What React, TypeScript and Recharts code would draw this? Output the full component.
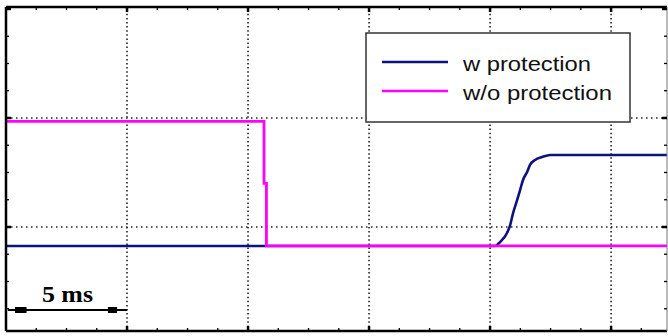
import React from 'react';
import {
  LineChart,
  Line,
  XAxis,
  YAxis,
  ReferenceLine,
  ReferenceArea,
  Legend,
} from 'recharts';

// ---- data (time in ms, amplitude in division units) ----
const wName = 'w protection';
const woName = 'w/o protection';

const wTime = [0, 20.21, 20.41, 20.7, 20.83, 20.95, 21.12, 21.24, 21.36, 21.53, 21.65, 21.86, 22.15, 22.48, 22.89, 27.31];
const wValue = [0.826, 0.826, 0.862, 0.945, 1.018, 1.128, 1.248, 1.339, 1.431, 1.505, 1.569, 1.615, 1.642, 1.661, 1.661, 1.661];

const woTime = [0, 10.66, 10.66, 10.76, 10.76, 27.31];
const woValue = [1.968, 1.968, 1.4, 1.4, 0.826, 0.826];

const xTicks = [1.25, 2.5, 3.75, 5, 6.25, 7.5, 8.75, 10, 11.25, 12.5, 13.75, 15, 16.25, 17.5, 18.75, 20, 21.25, 22.5, 23.75, 25, 26.25];
const yTicks = [0.25, 0.5, 0.75, 1, 1.25, 1.5, 1.75, 2, 2.25, 2.5, 2.75, 3];
const xGrid = [5, 10, 15, 20, 25];
const yGrid = [1, 2];

const scaleLabel = '5 ms';
const scaleStart = 0.08;
const scaleEnd = 5;
const scaleLevel = 0.2385;
const capLeft = [0.37, 0.85];
const capRight = [4.21, 4.59];
const capY = [0.211, 0.266];

const wData = wTime.map((t, i) => ({ t, v: wValue[i] }));
const woData = woTime.map((t, i) => ({ t, v: woValue[i] }));

const isMajorX = (v: number) => Math.abs(v % 5) < 1e-6;
const isMajorY = (v: number) => Math.abs(v % 1) < 1e-6;

const makeXTick = (dir: number) => (props: any) => {
  const { x, y, payload } = props;
  const major = isMajorX(payload.value);
  const len = major ? 5 : 3;
  return (
    <line x1={x} x2={x} y1={y} y2={y + dir * len} stroke="#000" strokeWidth={major ? 2.5 : 1.3} />
  );
};

const makeYTick = (dir: number) => (props: any) => {
  const { x, y, payload } = props;
  const major = isMajorY(payload.value);
  const len = major ? 5 : 3;
  return (
    <line x1={x} x2={x + dir * len} y1={y} y2={y} stroke="#000" strokeWidth={major ? 2.5 : 1.3} />
  );
};

const legendTextLen: Record<string, number> = { [wName]: 128, [woName]: 149 };

const renderLegend = (props: any) => {
  const payload = props.payload || [];
  return (
    <svg width={267} height={92} style={{ display: 'block' }}>
      <rect x={1} y={1} width={264} height={89} fill="#fff" stroke="#333" strokeWidth={1.5} />
      {payload.map((p: any, i: number) => (
        <g key={p.value}>
          <line x1={17} x2={83} y1={30 + i * 29} y2={30 + i * 29} stroke={p.color} strokeWidth={2.5} />
          <text
            x={98}
            y={39 + i * 29}
            fontFamily="'Liberation Sans', Arial, sans-serif"
            fontSize={21}
            fill="#111"
            textLength={legendTextLen[p.value]}
            lengthAdjust="spacingAndGlyphs"
          >
            {p.value}
          </text>
        </g>
      ))}
    </svg>
  );
};

const renderScaleLabel = (props: any) => {
  const vb = props.viewBox || {};
  const cx = (vb.x || 0) + (vb.width || 0) / 2;
  const cy = vb.y || 0;
  return (
    <text
      x={cx}
      y={cy - 8}
      textAnchor="middle"
      fontFamily="'Liberation Serif', 'Times New Roman', serif"
      fontWeight="bold"
      fontSize={24}
      fill="#000"
      textLength={51}
      lengthAdjust="spacingAndGlyphs"
    >
      {scaleLabel}
    </text>
  );
};

export default function App() {
  const axisCommonX = {
    type: 'number' as const,
    domain: [0, 27.31],
    ticks: xTicks,
    interval: 0 as const,
    mirror: true,
    height: 1,
    tickSize: 0,
    tickMargin: 0,
    tickLine: false,
    allowDataOverflow: true,
  };
  const axisCommonY = {
    type: 'number' as const,
    domain: [0.046, 3.018],
    ticks: yTicks,
    interval: 0 as const,
    mirror: true,
    width: 1,
    tickSize: 0,
    tickMargin: 0,
    tickLine: false,
    allowDataOverflow: true,
  };
  return (
    <div style={{ position: 'absolute', left: 0, top: 0, background: '#fff' }}>
      <LineChart width={668} height={336} margin={{ top: 7, right: 1, bottom: 5, left: 6 }}>
        <XAxis xAxisId="b" dataKey="t" orientation="bottom" {...axisCommonX} axisLine={{ stroke: '#000', strokeWidth: 2.5 }} tick={makeXTick(-1)} />
        <XAxis xAxisId="t" dataKey="t" orientation="top" {...axisCommonX} axisLine={{ stroke: '#000', strokeWidth: 2.5 }} tick={makeXTick(1)} />
        <YAxis yAxisId="l" dataKey="v" orientation="left" {...axisCommonY} axisLine={{ stroke: '#000', strokeWidth: 2.5 }} tick={makeYTick(1)} />
        <YAxis yAxisId="r" dataKey="v" orientation="right" {...axisCommonY} axisLine={{ stroke: '#777', strokeWidth: 1 }} tick={makeYTick(-1)} />

        {xGrid.map((x) => (
          <ReferenceLine key={'gx' + x} xAxisId="b" yAxisId="l" x={x} stroke="#222" strokeWidth={1.6} strokeDasharray="1.5 2.6" />
        ))}
        {yGrid.map((y) => (
          <ReferenceLine key={'gy' + y} xAxisId="b" yAxisId="l" y={y} stroke="#222" strokeWidth={1.6} strokeDasharray="1.5 3.5" />
        ))}

        <ReferenceLine
          xAxisId="b"
          yAxisId="l"
          segment={[{ x: scaleStart, y: scaleLevel }, { x: scaleEnd, y: scaleLevel }]}
          stroke="#000"
          strokeWidth={2}
          label={renderScaleLabel}
        />
        <ReferenceArea xAxisId="b" yAxisId="l" x1={capLeft[0]} x2={capLeft[1]} y1={capY[0]} y2={capY[1]} fill="#000" fillOpacity={1} stroke="none" />
        <ReferenceArea xAxisId="b" yAxisId="l" x1={capRight[0]} x2={capRight[1]} y1={capY[0]} y2={capY[1]} fill="#000" fillOpacity={1} stroke="none" />

        <Line
          xAxisId="b"
          yAxisId="l"
          data={wData}
          dataKey="v"
          name={wName}
          type="monotone"
          stroke="#10107e"
          strokeWidth={2.6}
          dot={false}
          isAnimationActive={false}
        />
        <Line
          xAxisId="b"
          yAxisId="l"
          data={woData}
          dataKey="v"
          name={woName}
          type="linear"
          stroke="#ff00ff"
          strokeWidth={2.8}
          dot={false}
          isAnimationActive={false}
        />

        <Legend
          layout="horizontal"
          verticalAlign="middle"
          align="center"
          content={renderLegend}
          wrapperStyle={{ position: 'absolute', left: 365, top: 32, width: 267, height: 92 }}
        />
      </LineChart>
    </div>
  );
}
